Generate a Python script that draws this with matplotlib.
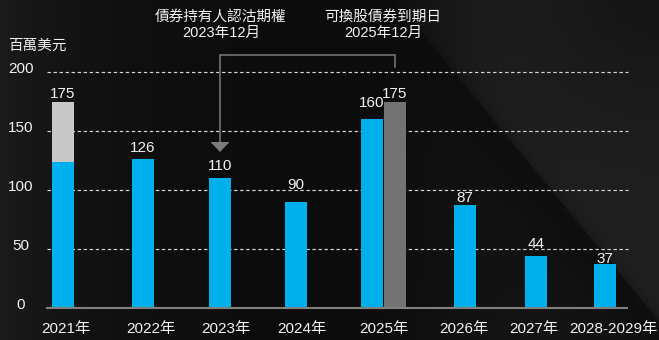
import numpy as np
import matplotlib
matplotlib.use("Agg")
import matplotlib.pyplot as plt
from matplotlib.patches import Polygon

# ---- data ----
categories = ["2021年", "2022年", "2023年", "2024年", "2025年", "2026年", "2027年", "2028-2029年"]
blue_values = [124, 126, 110, 90, 160, 87, 44, 37]
total_2021 = 175
gray_2021 = total_2021 - blue_values[0]
convertible_2025 = 175
y_ticks = [0, 50, 100, 150, 200]
note_put = ["債券持有人認沽期權", "2023年12月"]
note_conv = ["可換股債券到期日", "2025年12月"]
unit_label = "百萬美元"

# ---- layout ----
W, H = 659, 340
slot_x = [63, 143, 220, 296, 383.5, 465, 536, 605]
tick_x = [66, 151, 226, 302, 384, 464, 534, 613]
label_gap_px = [3, 7, 8, 13, 12, 4, 3, 8, 1]
bar_w = 22
px_per_unit = 236 / 200

BLUE = "#00b0ec"
LIGHT = "#c8c8c6"
GRAY = "#737373"
LINE = "#7c7c7c"
TXT = "#f2f2f2"
FONT = ["Liberation Sans", "Noto Sans CJK TC"]
plt.rcParams["font.family"] = FONT

fig = plt.figure(figsize=(W / 100, H / 100), dpi=100)

# dark textured backdrop
X, Y = np.meshgrid(np.arange(W), np.arange(H))
bg = 11 + 16 * np.exp(-X / 110.0)
right = 1 / (1 + np.exp(-(X - 430) / 30.0))
s = (X - 465) - (Y - 85) / 1.216
upper = 1 / (1 + np.exp(-s / 6.0))
shadow = np.where(s < 0, np.exp(np.clip(s, -500, 0) / 45.0), 0)
corner = np.exp(-((X - W) ** 2 + (Y + 20) ** 2) / (2 * 90.0 ** 2))
bg += right * (9 + 11 * upper) - right * 9 * shadow - 10 * corner
bg = np.clip(bg, 0, 255) / 255.0
bg_ax = fig.add_axes([0, 0, 1, 1], zorder=0)
bg_ax.imshow(np.dstack([bg, bg, bg]), aspect="auto", extent=(0, W, H, 0))
bg_ax.axis("off")

ax = fig.add_axes([46 / W, (H - 308) / H, 582 / W, 236 / H], zorder=1)
ax.set_facecolor("none")
ax.set_xlim(46, 628)
ax.set_ylim(0, 200)
for sp in ax.spines.values():
    sp.set_visible(False)
ax.set_xticks([])
ax.set_yticks([])

# dashed grid
ax.hlines(y_ticks[1:], 47, 628, colors="#d6d6d6", linestyles=(0, (2.9, 2.2)),
          linewidth=0.85, zorder=1, clip_on=False)
ax.hlines(0, 46, 628, colors="#808080", linewidth=1.5, zorder=3, clip_on=False)

# bars
xs = list(slot_x)
xs[4] = slot_x[4] - 11.5
x_conv = slot_x[4] + 11.5
ax.bar(xs, blue_values, width=bar_w, color=BLUE, zorder=2)
ax.bar(xs[0], gray_2021, bottom=blue_values[0], width=bar_w, color=LIGHT, zorder=2)
ax.bar(x_conv, convertible_2025, width=bar_w, color=GRAY, zorder=2)

# value labels
label_x = [xs[0], xs[1], xs[2], xs[3], xs[4], x_conv, xs[5], xs[6], xs[7]]
label_v = [total_2021] + blue_values[1:5] + [convertible_2025] + blue_values[5:]
for x, v, g in zip(label_x, label_v, label_gap_px):
    ax.annotate(str(v), (x, v), xytext=(0, g * 0.72), textcoords="offset points",
                ha="center", va="baseline", color=TXT, fontsize=11, clip_on=False)

# category labels
for x, c in zip(tick_x, categories):
    ax.annotate(c, (x, 0), xytext=(0, -25 * 0.72), textcoords="offset points",
                ha="center", va="baseline", color=TXT, fontsize=11, annotation_clip=False)

# y tick labels
for v in y_ticks:
    ax.annotate(str(v), (21, v), xytext=(0, -1 * 0.72), textcoords="offset points",
                ha="center", va="baseline", color=TXT, fontsize=11, annotation_clip=False)

fig.text(37 / W, 1 - 50 / H, unit_label, ha="center", va="baseline", color=TXT, fontsize=10.5)

# bracket linking the put option to the maturity
y_top = (308 - 55) / px_per_unit
y_right = (308 - 67) / px_per_unit
y_arrow = (308 - 142) / px_per_unit
x_left = slot_x[2]
ax.plot([x_left, x_left, x_conv, x_conv], [y_arrow, y_top, y_top, y_right],
        color=LINE, linewidth=1.1, clip_on=False, zorder=3, solid_joinstyle="miter")
tri_h = 10 / px_per_unit
ax.add_patch(Polygon([(x_left - 9.5, y_arrow), (x_left + 9.5, y_arrow), (x_left, y_arrow - tri_h)],
                     closed=True, facecolor=LINE, edgecolor="none", zorder=3, clip_on=False))

# notes above the chart
for cx, lines in ((221, note_put), (383, note_conv)):
    fig.text(cx / W, 1 - 21 / H, lines[0], ha="center", va="baseline", color=TXT, fontsize=10.5)
    fig.text(cx / W, 1 - 37 / H, lines[1], ha="center", va="baseline", color=TXT, fontsize=10.5)

fig.savefig("out.png", dpi=100)
